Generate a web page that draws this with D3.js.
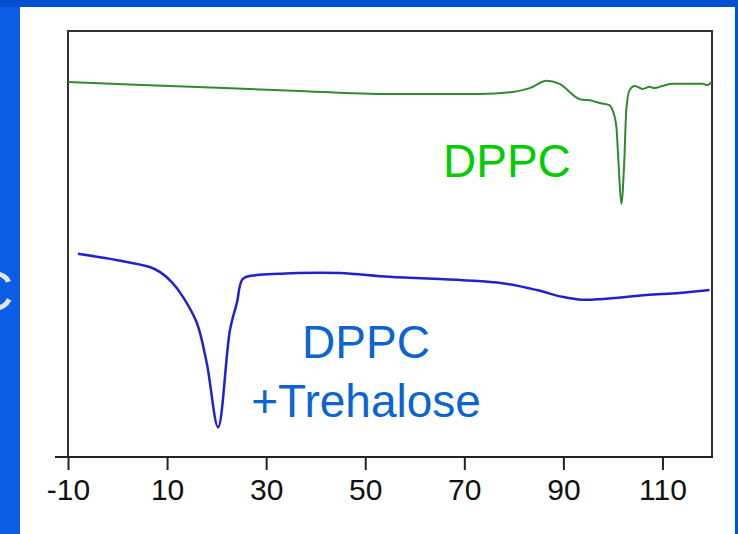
<!DOCTYPE html>
<html><head><meta charset="utf-8">
<script src="https://cdn.jsdelivr.net/npm/d3@7"></script>
<style>html,body{margin:0;padding:0;background:#0050d0;}svg{display:block;}</style>
</head><body>
<svg id="c" width="738" height="534"></svg>
<script>
// Temperature (°C) vs heat flow (arbitrary units)
const dppcT = [-10,10.6,35.4,54.9,66.4,73.1,79.8,83.2,86.6,89.2,93.3,95.9,97.3,99.3,99.9,100.7,101.1,101.7,102.3,102.7,103.4,104.4,106.0,107.4,108.4,110.0,112.0,118.1,119.1,119.9];
const dppcH = [8.80,8.71,8.60,8.52,8.52,8.52,8.57,8.66,8.83,8.76,8.40,8.36,8.31,8.26,8.15,7.75,6.97,5.94,6.97,8.15,8.62,8.71,8.64,8.69,8.66,8.71,8.76,8.76,8.73,8.80];
const treT = [-8.0,0.0,6.5,8.6,11.0,13.2,16.0,18.0,20.3,22.7,24.1,25.3,28.1,32.8,36.2,44.9,54.9,69.7,77.7,84.6,89.8,93.9,97.9,106.8,113.4,119.5];
const treH = [4.77,4.62,4.46,4.34,4.10,3.76,3.15,2.21,0.70,2.98,3.62,4.18,4.27,4.30,4.32,4.32,4.23,4.15,4.08,3.92,3.76,3.69,3.71,3.80,3.85,3.92];
const xTicks = [-10,10,30,50,70,90,110];
const labels = {dppc:"DPPC", tre1:"DPPC", tre2:"+Trehalose"};

const svg = d3.select("#c");
svg.append("rect").attr("x",0).attr("y",0).attr("width",738).attr("height",534).attr("fill","#0050d0");
svg.append("rect").attr("x",0).attr("y",7).attr("width",20).attr("height",527).attr("fill","#0a5de4");
svg.append("rect").attr("x",20).attr("y",7).attr("width",715).attr("height",527).attr("fill","#ffffff");
svg.append("text").attr("x",-27).attr("y",310).attr("font-family","Liberation Sans, Arial, sans-serif")
  .attr("font-size",56).attr("fill","#e6e6e6").text("C");

const L=68, R=712, T=31, B=457;
const x = d3.scaleLinear().domain([-10,120]).range([L,R]);
const y = d3.scaleLinear().domain([0,10]).range([B,B-426]);

// frame
svg.append("path").attr("d",`M${L},${B}V${T}H${R}V${B}`).attr("fill","none").attr("stroke","#333").attr("stroke-width",2);
svg.append("line").attr("x1",55).attr("x2",R+1).attr("y1",B).attr("y2",B).attr("stroke","#222").attr("stroke-width",2);

const ff = "Liberation Sans, Arial, sans-serif";
const ax = svg.append("g").attr("transform",`translate(0,${B})`)
  .call(d3.axisBottom(x).tickValues(xTicks).tickSize(13).tickPadding(9).tickFormat(d=>String(d)));
ax.select(".domain").remove();
ax.selectAll(".tick line").attr("stroke","#222").attr("stroke-width",2);
ax.selectAll(".tick text").attr("font-family",ff).attr("font-size",30).attr("fill","#111");

const line = d3.line().x(d=>x(d[0])).y(d=>y(d[1])).curve(d3.curveMonotoneX);
svg.append("path").datum(dppcT.map((t,i)=>[t,dppcH[i]])).attr("d",line)
  .attr("fill","none").attr("stroke","#2e8b2e").attr("stroke-width",2);
svg.append("path").datum(treT.map((t,i)=>[t,treH[i]])).attr("d",d3.line().x(d=>x(d[0])).y(d=>y(d[1])).curve(d3.curveCatmullRom.alpha(0.5)))
  .attr("fill","none").attr("stroke","#2222cc").attr("stroke-width",2.5).attr("stroke-linejoin","round");

svg.append("text").attr("x",443).attr("y",177).attr("font-family",ff).attr("font-size",46).attr("fill","#00cc00").text(labels.dppc);
svg.append("text").attr("x",366).attr("y",358).attr("text-anchor","middle").attr("font-family",ff).attr("font-size",46).attr("fill","#0a64d2").text(labels.tre1);
svg.append("text").attr("x",366).attr("y",417).attr("text-anchor","middle").attr("font-family",ff).attr("font-size",46).attr("fill","#0a64d2").text(labels.tre2);
</script>
</body></html>
